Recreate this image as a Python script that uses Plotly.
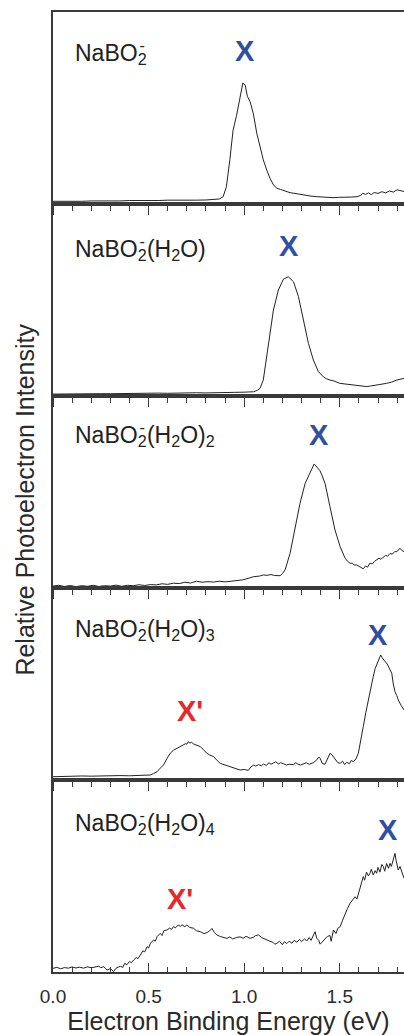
import plotly.graph_objects as go

# ---------------- data ----------------
SUB2M = "<sub><span style='letter-spacing:-7px'>2</span></sub><sup><span style='letter-spacing:2px'>-</span></sup>"
labels = ["NaBO" + SUB2M,
          "NaBO" + SUB2M + "(H<sub>2</sub>O)",
          "NaBO" + SUB2M + "(H<sub>2</sub>O)<sub>2</sub>",
          "NaBO" + SUB2M + "(H<sub>2</sub>O)<sub>3</sub>",
          "NaBO" + SUB2M + "(H<sub>2</sub>O)<sub>4</sub>"]

e1 = [0.00, 0.05, 0.10, 0.15, 0.20, 0.25, 0.30, 0.35, 0.40, 0.45, 0.50, 0.55, 0.60, 0.65, 0.70, 0.75, 0.80, 0.84,
      0.87, 0.89, 0.907, 0.925, 0.942, 0.96, 0.979, 0.993, 1.005, 1.017, 1.031, 1.048, 1.066, 1.083, 1.10, 1.118,
      1.135, 1.153, 1.17, 1.19, 1.205, 1.22, 1.24, 1.26, 1.29, 1.32, 1.35, 1.38, 1.41, 1.44, 1.47, 1.50, 1.53, 1.56,
      1.59, 1.61, 1.62, 1.635, 1.65, 1.665, 1.68, 1.70, 1.72, 1.74, 1.76, 1.78, 1.80, 1.815, 1.836]
i1 = [0.014, 0.013, 0.015, 0.014, 0.016, 0.015, 0.017, 0.016, 0.018, 0.017, 0.019, 0.018, 0.020, 0.019, 0.021, 0.020,
      0.021, 0.022, 0.026, 0.038, 0.09, 0.23, 0.385, 0.46, 0.56, 0.63, 0.62, 0.56, 0.533, 0.47, 0.368, 0.30, 0.23,
      0.177, 0.134, 0.10, 0.082, 0.076, 0.07, 0.066, 0.059, 0.056, 0.05, 0.046, 0.041, 0.038, 0.036, 0.035, 0.033,
      0.035, 0.034, 0.036, 0.038, 0.045, 0.056, 0.05, 0.058, 0.049, 0.06, 0.055, 0.064, 0.058, 0.068, 0.062, 0.074,
      0.07, 0.065]

e2 = [0.00, 0.05, 0.10, 0.15, 0.20, 0.25, 0.30, 0.35, 0.40, 0.45, 0.50, 0.55, 0.60, 0.65, 0.70, 0.75, 0.80, 0.85,
      0.90, 0.95, 1.00, 1.049, 1.07, 1.083, 1.10, 1.118, 1.136, 1.153, 1.179, 1.205, 1.231, 1.258, 1.284, 1.31,
      1.336, 1.362, 1.388, 1.414, 1.43, 1.449, 1.47, 1.50, 1.52, 1.55, 1.571, 1.60, 1.62, 1.641, 1.66, 1.693, 1.71,
      1.745, 1.77, 1.798, 1.82, 1.836]
i2 = [0.010, 0.011, 0.010, 0.012, 0.011, 0.012, 0.012, 0.013, 0.013, 0.014, 0.013, 0.015, 0.014, 0.016, 0.015,
      0.017, 0.016, 0.018, 0.017, 0.019, 0.020, 0.022, 0.030, 0.040, 0.083, 0.205, 0.326, 0.448, 0.552, 0.608, 0.621,
      0.595, 0.517, 0.396, 0.274, 0.1875, 0.127, 0.100, 0.090, 0.083, 0.078, 0.066, 0.063, 0.060, 0.057, 0.052,
      0.050, 0.049, 0.052, 0.055, 0.060, 0.066, 0.072, 0.083, 0.088, 0.092]

e3 = [0.00, 0.03, 0.06, 0.09, 0.12, 0.15, 0.18, 0.21, 0.24, 0.27, 0.30, 0.33, 0.36, 0.39, 0.42, 0.45, 0.48, 0.51,
      0.54, 0.57, 0.60, 0.63, 0.66, 0.69, 0.72, 0.75, 0.78, 0.81, 0.84, 0.87, 0.90, 0.93, 0.96, 0.99, 1.02, 1.05,
      1.08, 1.10, 1.12, 1.14, 1.16, 1.188, 1.20, 1.214, 1.24, 1.266, 1.292, 1.319, 1.345, 1.355, 1.366, 1.375, 1.388,
      1.397, 1.406, 1.423, 1.449, 1.475, 1.502, 1.515, 1.528, 1.54, 1.554, 1.565, 1.575, 1.589, 1.60, 1.61, 1.623,
      1.635, 1.645, 1.658, 1.67, 1.683, 1.693, 1.705, 1.715, 1.728, 1.74, 1.75, 1.763, 1.775, 1.788, 1.798, 1.806,
      1.815, 1.825, 1.836]
i3 = [0.010, 0.014, 0.008, 0.013, 0.007, 0.012, 0.009, 0.014, 0.008, 0.012, 0.010, 0.015, 0.009, 0.014, 0.012,
      0.017, 0.013, 0.018, 0.016, 0.022, 0.019, 0.025, 0.023, 0.030, 0.026, 0.035, 0.030, 0.033, 0.031, 0.035, 0.032,
      0.034, 0.038, 0.042, 0.050, 0.059, 0.062, 0.068, 0.066, 0.070, 0.065, 0.064, 0.075, 0.094, 0.18, 0.302, 0.441,
      0.545, 0.606, 0.63, 0.646, 0.636, 0.623, 0.61, 0.589, 0.545, 0.423, 0.302, 0.215, 0.18, 0.155, 0.14, 0.128,
      0.13, 0.12, 0.12, 0.112, 0.108, 0.10, 0.115, 0.108, 0.13, 0.125, 0.14, 0.146, 0.155, 0.15, 0.163, 0.17, 0.165,
      0.18, 0.176, 0.19, 0.189, 0.20, 0.207, 0.195, 0.19]

e4 = [0.00, 0.05, 0.10, 0.15, 0.20, 0.25, 0.30, 0.35, 0.40, 0.45, 0.48, 0.509, 0.525, 0.544, 0.56, 0.578, 0.595,
      0.613, 0.63, 0.648, 0.665, 0.683, 0.695, 0.70, 0.709, 0.715, 0.725, 0.735, 0.75, 0.77, 0.785, 0.805, 0.82,
      0.84, 0.86, 0.875, 0.90, 0.927, 0.95, 0.979, 1.00, 1.022, 1.035, 1.049, 1.06, 1.075, 1.09, 1.101, 1.115, 1.13,
      1.14, 1.153, 1.165, 1.18, 1.19, 1.205, 1.22, 1.235, 1.258, 1.27, 1.28, 1.295, 1.31, 1.325, 1.34, 1.362, 1.38,
      1.39, 1.397, 1.41, 1.423, 1.435, 1.449, 1.46, 1.475, 1.49, 1.502, 1.515, 1.525, 1.536, 1.55, 1.56, 1.571, 1.585,
      1.597, 1.61, 1.623, 1.636, 1.649, 1.662, 1.675, 1.685, 1.696, 1.705, 1.714, 1.72, 1.728, 1.737, 1.745, 1.754,
      1.763, 1.772, 1.78, 1.789, 1.798, 1.806, 1.82, 1.836]
i4 = [0.017, 0.019, 0.018, 0.021, 0.020, 0.022, 0.021, 0.023, 0.022, 0.024, 0.025, 0.026, 0.033, 0.043, 0.06,
      0.078, 0.11, 0.139, 0.155, 0.165, 0.172, 0.182, 0.19, 0.186, 0.20, 0.192, 0.196, 0.188, 0.182, 0.174, 0.16,
      0.139, 0.13, 0.122, 0.10, 0.087, 0.078, 0.07, 0.062, 0.052, 0.055, 0.05, 0.068, 0.078, 0.072, 0.08, 0.074,
      0.083, 0.076, 0.09, 0.082, 0.087, 0.095, 0.083, 0.09, 0.085, 0.078, 0.082, 0.08, 0.09, 0.083, 0.078, 0.085,
      0.09, 0.082, 0.09, 0.105, 0.12, 0.113, 0.085, 0.082, 0.11, 0.139, 0.13, 0.11, 0.09, 0.087, 0.098, 0.08, 0.092,
      0.085, 0.102, 0.095, 0.11, 0.139, 0.20, 0.278, 0.35, 0.417, 0.48, 0.538, 0.58, 0.608, 0.63, 0.651, 0.64, 0.628,
      0.616, 0.61, 0.59, 0.575, 0.556, 0.50, 0.46, 0.44, 0.417, 0.39, 0.365]

e5 = [0.00, 0.02, 0.04, 0.06, 0.08, 0.10, 0.12, 0.14, 0.16, 0.18, 0.20, 0.22, 0.24, 0.25, 0.265, 0.283, 0.30, 0.317,
      0.33, 0.352, 0.365, 0.375, 0.387, 0.40, 0.41, 0.422, 0.435, 0.445, 0.457, 0.47, 0.48, 0.492, 0.50, 0.51, 0.526,
      0.535, 0.545, 0.561, 0.57, 0.58, 0.596, 0.61, 0.62, 0.631, 0.64, 0.655, 0.666, 0.675, 0.69, 0.70, 0.715, 0.735,
      0.75, 0.77, 0.79, 0.805, 0.82, 0.831, 0.845, 0.857, 0.875, 0.89, 0.91, 0.925, 0.94, 0.96, 0.979, 0.995, 1.01,
      1.031, 1.05, 1.06, 1.075, 1.09, 1.105, 1.119, 1.135, 1.15, 1.16, 1.171, 1.185, 1.20, 1.21, 1.223, 1.235, 1.25,
      1.262, 1.275, 1.29, 1.30, 1.315, 1.328, 1.34, 1.35, 1.36, 1.371, 1.38, 1.39, 1.397, 1.41, 1.42, 1.435, 1.449,
      1.455, 1.467, 1.48, 1.49, 1.502, 1.515, 1.528, 1.54, 1.554, 1.565, 1.58, 1.59, 1.60, 1.606, 1.615, 1.623, 1.63,
      1.64, 1.65, 1.658, 1.665, 1.675, 1.685, 1.693, 1.70, 1.71, 1.72, 1.728, 1.735, 1.745, 1.755, 1.763, 1.77, 1.78,
      1.789, 1.795, 1.806, 1.815, 1.824, 1.836]
i5 = [0.019, 0.024, 0.017, 0.023, 0.020, 0.026, 0.021, 0.025, 0.020, 0.027, 0.022, 0.026, 0.030, 0.022, 0.028,
      0.010, 0.018, 0.002, 0.020, 0.030, 0.024, 0.045, 0.038, 0.055, 0.048, 0.0625, 0.075, 0.070, 0.089, 0.110, 0.105,
      0.132, 0.125, 0.150, 0.167, 0.160, 0.185, 0.201, 0.190, 0.215, 0.219, 0.228, 0.222, 0.236, 0.230, 0.245, 0.238,
      0.246, 0.236, 0.245, 0.232, 0.228, 0.215, 0.210, 0.200, 0.205, 0.215, 0.227, 0.205, 0.193, 0.185, 0.180, 0.175,
      0.183, 0.172, 0.180, 0.183, 0.176, 0.186, 0.175, 0.182, 0.190, 0.193, 0.180, 0.172, 0.168, 0.160, 0.155, 0.145,
      0.149, 0.160, 0.142, 0.158, 0.148, 0.160, 0.150, 0.165, 0.155, 0.170, 0.158, 0.172, 0.162, 0.180, 0.165, 0.190,
      0.210, 0.175, 0.165, 0.145, 0.158, 0.170, 0.185, 0.190, 0.160, 0.219, 0.200, 0.228, 0.236, 0.270, 0.306, 0.330,
      0.358, 0.375, 0.392, 0.380, 0.420, 0.444, 0.470, 0.497, 0.478, 0.520, 0.500, 0.514, 0.535, 0.505, 0.528, 0.514,
      0.545, 0.520, 0.560, 0.549, 0.525, 0.565, 0.540, 0.566, 0.550, 0.585, 0.618, 0.580, 0.531, 0.550, 0.520, 0.488]

energies = [e1, e2, e3, e4, e5]
intensities = [i1, i2, i3, i4, i5]

# peak markers: (panel, label, energy, relative height in panel, colour)
markers = [(1, "X", 1.005, 0.797, "#2f4fa2"),
           (2, "X", 1.235, 0.781, "#2f4fa2"),
           (3, "X", 1.392, 0.797, "#2f4fa2"),
           (4, "X", 1.700, 0.755, "#2f4fa2"),
           (4, "X'", 0.718, 0.359, "#e8262b"),
           (5, "X", 1.752, 0.742, "#2f4fa2"),
           (5, "X'", 0.666, 0.380, "#e8262b")]
label_pos = [0.79, 0.77, 0.80, 0.79, 0.78]

x_range = [0.0, 1.836]
x_ticks = [0.0, 0.5, 1.0, 1.5]
x_ticktext = ["0.0", "0.5", "1.0", "1.5"]

# ---------------- figure ----------------
FONT = "Liberation Sans, Arial, sans-serif"
AX = "#3a3a3a"
fig = go.Figure()
n = 5
layout = {}
for k in range(n):
    idx = k + 1
    xa = "x" if idx == 1 else f"x{idx}"
    ya = "y" if idx == 1 else f"y{idx}"
    fig.add_trace(go.Scatter(x=energies[k], y=intensities[k], mode="lines",
                             line=dict(color="#222222", width=1.0),
                             xaxis=xa, yaxis=ya, showlegend=False, hoverinfo="skip"))
    top = 1 - k / n
    bottom = 1 - (k + 1) / n
    last = idx == n
    xdef = dict(
        domain=[0, 1], anchor=ya, range=x_range, showgrid=False, zeroline=False,
        showline=True, linecolor=AX, linewidth=1.5, mirror=True,
        tickmode="array", tickvals=x_ticks, ticktext=x_ticktext,
        ticks="inside" if last else "outside", ticklen=9, tickwidth=1.3, tickcolor=AX,
        minor=dict(dtick=0.1, tick0=0, ticks="inside" if last else "outside", ticklen=5,
                   tickwidth=1.3, tickcolor=AX, showgrid=False),
        showticklabels=last,
        tickfont=dict(family=FONT, size=19, color="#2a2a2a"),
    )
    if last:
        xdef["ticklabelstandoff"] = 6
        xdef["title"] = dict(text="Electron Binding Energy (eV)",
                             font=dict(family=FONT, size=25, color="#2a2a2a"), standoff=8)
    layout[f"xaxis{'' if idx == 1 else idx}"] = xdef
    layout[f"yaxis{'' if idx == 1 else idx}"] = dict(
        domain=[bottom, top], anchor=xa, range=[0, 1], showgrid=False, zeroline=False,
        showline=True, linecolor=AX, linewidth=1.5, ticks="", showticklabels=False,
    )

fig.update_layout(**layout)

annotations = []
for k in range(n):
    idx = k + 1
    annotations.append(dict(
        text=labels[k], x=0.105, y=label_pos[k], xref="x" if idx == 1 else f"x{idx}",
        yref=("y" if idx == 1 else f"y{idx}") + " domain", xanchor="left", yanchor="middle",
        showarrow=False, font=dict(family=FONT, size=23, color="#222222")))
for (p, t, ex, ey, col) in markers:
    annotations.append(dict(
        text=f"<b>{t}</b>", x=ex, y=ey, xref="x" if p == 1 else f"x{p}",
        yref=("y" if p == 1 else f"y{p}") + " domain", xanchor="center", yanchor="middle",
        showarrow=False, font=dict(family=FONT, size=29, color=col)))
annotations.append(dict(
    text="Relative Photoelectron Intensity", x=-0.08, y=0.492, xref="paper", yref="paper",
    textangle=-90, showarrow=False, xanchor="center", yanchor="middle",
    font=dict(family=FONT, size=25, color="#2a2a2a")))

fig.update_layout(
    width=404, height=1035,
    margin=dict(l=53, r=0, t=12, b=63),
    paper_bgcolor="white", plot_bgcolor="rgba(0,0,0,0)",
    annotations=annotations,
)

fig.write_html("out.html", config={"displayModeBar": False})
